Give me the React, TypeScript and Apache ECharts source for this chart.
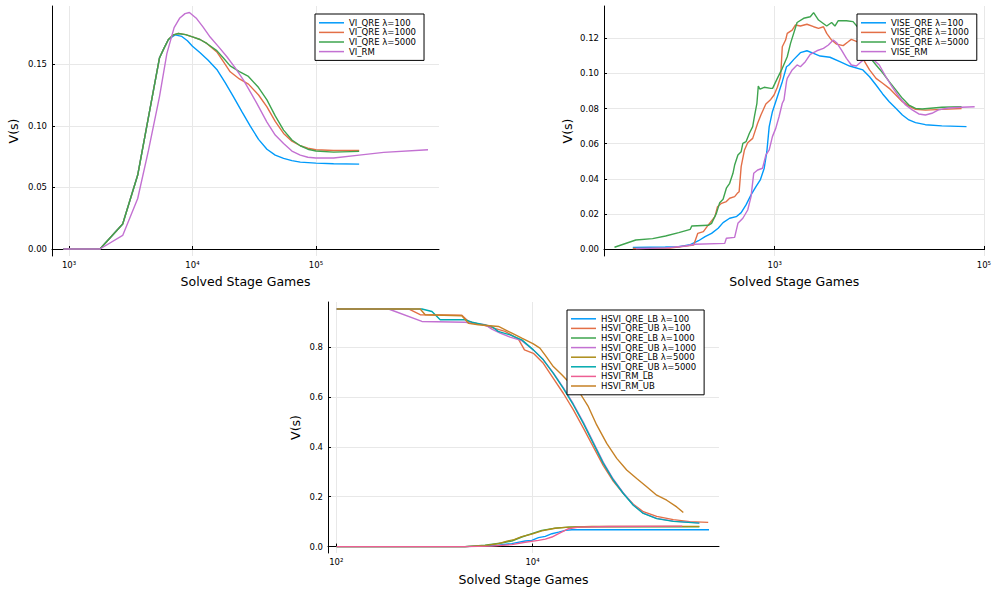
import React, { useEffect, useRef } from 'react';
import * as echarts from 'echarts';

// ---------- palette ----------
const COLORS = ['#009AFA', '#E36F47', '#3EA44E', '#C371D2', '#AC8D18', '#00A9AD', '#ED5E93', '#C68125'];

// ---------- tick values ----------
const X_TICKS_VI = [1000, 10000, 100000];
const X_TICKS_VISE = [1000, 100000];
const X_TICKS_HSVI = [100, 10000];
const Y_TICKS_VI = [0, 0.05, 0.1, 0.15];
const Y_TICKS_VISE = [0, 0.02, 0.04, 0.06, 0.08, 0.1, 0.12];
const Y_TICKS_HSVI = [0, 0.2, 0.4, 0.6, 0.8];

// ---------- plot 1: VI ----------
const VI_NAMES = ['VI_QRE λ=100', 'VI_QRE λ=1000', 'VI_QRE λ=5000', 'VI_RM'];
const VI_QRE_100 = [[900, 0], [1780, 0], [2720, 0.0203], [3600, 0.06], [4400, 0.107], [5400, 0.155], [5820, 0.162], [6380, 0.17], [7230, 0.1738], [8200, 0.1725], [9100, 0.169], [10000, 0.1646], [11470, 0.1595], [13400, 0.1532], [15740, 0.1457], [18400, 0.135], [21500, 0.1235], [25130, 0.1115], [29400, 0.0997], [34300, 0.089], [40100, 0.081], [46800, 0.0762], [54700, 0.0735], [63900, 0.0717], [74700, 0.0705], [100000, 0.0697], [139000, 0.0692], [224000, 0.0689]];
const VI_QRE_1000 = [[900, 0], [1780, 0], [2720, 0.0203], [3600, 0.06], [4400, 0.107], [5400, 0.155], [5820, 0.162], [6380, 0.17], [7000, 0.1738], [7690, 0.1749], [8800, 0.174], [10000, 0.1722], [11500, 0.17], [13060, 0.1668], [15740, 0.16], [17800, 0.152], [20200, 0.1438], [24000, 0.138], [28400, 0.1338], [34300, 0.125], [40100, 0.1154], [46800, 0.1035], [54700, 0.0938], [63900, 0.0875], [74700, 0.0838], [86000, 0.0818], [100000, 0.0805], [139000, 0.08], [224000, 0.08]];
const VI_QRE_5000 = [[900, 0], [1780, 0], [2720, 0.0203], [3600, 0.06], [4400, 0.107], [5400, 0.155], [5820, 0.162], [6380, 0.17], [7000, 0.1738], [7690, 0.1749], [8800, 0.174], [10000, 0.1722], [11500, 0.17], [13060, 0.1668], [15740, 0.161], [17800, 0.155], [20200, 0.1486], [24000, 0.144], [28400, 0.14], [34300, 0.131], [40100, 0.121], [46800, 0.108], [54700, 0.0965], [63900, 0.0885], [74700, 0.0838], [86000, 0.081], [100000, 0.0795], [139000, 0.0786], [224000, 0.0792]];
const VI_RM = [[900, 0], [1780, 0], [2720, 0.011], [3600, 0.041], [4400, 0.08], [5400, 0.1235], [6200, 0.1586], [7100, 0.1797], [7900, 0.1875], [8700, 0.191], [9440, 0.1919], [10800, 0.187], [12200, 0.18], [13900, 0.172], [16300, 0.164], [19000, 0.156], [22200, 0.147], [25900, 0.137], [29400, 0.1275], [33300, 0.118], [40100, 0.103], [46800, 0.0925], [54700, 0.0857], [63900, 0.0795], [74700, 0.0762], [86000, 0.0745], [100000, 0.0738], [139000, 0.0738], [224000, 0.0762], [354000, 0.0784], [809000, 0.0805]];

// ---------- plot 2: VISE ----------
const VISE_NAMES = ['VISE_QRE λ=100', 'VISE_QRE λ=1000', 'VISE_QRE λ=5000', 'VISE_RM'];
const VISE_QRE_100 = [[44, 0.0008], [90, 0.0011], [121, 0.0013], [156, 0.0025], [187, 0.0047], [216, 0.007], [249, 0.0089], [288, 0.0118], [321, 0.015], [371, 0.0175], [429, 0.0184], [478, 0.0207], [532, 0.0251], [594, 0.0308], [662, 0.0355], [728, 0.0393], [794, 0.046], [841, 0.0554], [886, 0.0697], [951, 0.0782], [1060, 0.0867], [1182, 0.0953], [1297, 0.1038], [1368, 0.1048], [1524, 0.108], [1760, 0.1118], [2033, 0.1129], [2355, 0.1114], [2718, 0.1099], [3375, 0.1092], [4200, 0.1067], [5210, 0.1042], [6970, 0.102], [8070, 0.0981], [9310, 0.0934], [10770, 0.0883], [12450, 0.0839], [14390, 0.0801], [16630, 0.0763], [19200, 0.0735], [22200, 0.072], [27600, 0.0708], [39600, 0.0701], [68200, 0.0697]];
const VISE_QRE_1000 = [[44, 0.0003], [100, 0.0005], [168, 0.0023], [184, 0.0089], [208, 0.0099], [232, 0.0137], [268, 0.0184], [284, 0.0241], [310, 0.026], [345, 0.027], [371, 0.0289], [414, 0.0298], [439, 0.0317], [457, 0.0326], [478, 0.0469], [514, 0.0564], [552, 0.0605], [616, 0.063], [687, 0.0716], [738, 0.0763], [823, 0.0826], [917, 0.0852], [986, 0.0877], [1060, 0.0921], [1140, 0.0981], [1182, 0.1152], [1271, 0.119], [1318, 0.1228], [1469, 0.1247], [1580, 0.1276], [1760, 0.127], [2033, 0.128], [2355, 0.1266], [2625, 0.1257], [2925, 0.1266], [3142, 0.1228], [3500, 0.119], [3906, 0.1167], [4516, 0.1158], [5040, 0.118], [5400, 0.1194], [6200, 0.118], [7240, 0.1067], [8070, 0.102], [9310, 0.0972], [10770, 0.0944], [12450, 0.0915], [14390, 0.0877], [16630, 0.0839], [19200, 0.0814], [22200, 0.0795], [27600, 0.0791], [39600, 0.0795], [61200, 0.08]];
const VISE_QRE_5000 = [[29.4, 0.001], [47, 0.0051], [68, 0.0059], [90.5, 0.0074], [121, 0.0093], [156, 0.0112], [161, 0.0131], [232, 0.0135], [249, 0.0146], [277, 0.0203], [298, 0.0264], [321, 0.0283], [345, 0.0346], [371, 0.0374], [399, 0.0431], [414, 0.0478], [445, 0.0535], [478, 0.0554], [496, 0.0602], [532, 0.0611], [573, 0.0659], [616, 0.0697], [639, 0.0753], [676, 0.083], [697, 0.0928], [722, 0.091], [794, 0.0921], [917, 0.0915], [955, 0.0915], [1060, 0.0972], [1182, 0.1029], [1318, 0.1095], [1417, 0.1171], [1637, 0.129], [1892, 0.1314], [2188, 0.1323], [2355, 0.1346], [2625, 0.1304], [3142, 0.127], [3500, 0.129], [3764, 0.127], [4053, 0.13], [4853, 0.13], [5610, 0.1295], [6500, 0.125], [7500, 0.116], [8670, 0.107], [9310, 0.1048], [10770, 0.1004], [12450, 0.0953], [14390, 0.0906], [16630, 0.0858], [19200, 0.082], [22200, 0.0801], [25650, 0.0797], [39600, 0.0807], [61200, 0.081]];
const VISE_RM = [[47, 0.0002], [90.5, 0.0006], [140, 0.0017], [173, 0.0027], [333, 0.0032], [345, 0.0061], [414, 0.0066], [445, 0.0146], [496, 0.0175], [552, 0.0222], [594, 0.0298], [630, 0.0431], [687, 0.045], [765, 0.046], [823, 0.0535], [886, 0.0564], [951, 0.064], [1023, 0.0687], [1100, 0.0753], [1182, 0.083], [1227, 0.0849], [1297, 0.0953], [1318, 0.0972], [1469, 0.102], [1637, 0.1048], [1760, 0.1038], [1963, 0.1067], [2188, 0.1108], [2529, 0.1129], [2925, 0.1143], [3260, 0.1162], [3630, 0.119], [3906, 0.1175], [4355, 0.1133], [4853, 0.1086], [5410, 0.1048], [6030, 0.1042], [6720, 0.1067], [8000, 0.11], [10000, 0.1048], [11560, 0.0981], [13360, 0.0921], [15450, 0.0867], [17850, 0.082], [20650, 0.0792], [23850, 0.0769], [27600, 0.0763], [31850, 0.0773], [36800, 0.0792], [45700, 0.0803], [61200, 0.0807], [81600, 0.081]];

// ---------- plot 3: HSVI ----------
const HSVI_NAMES = ['HSVI_QRE_LB λ=100', 'HSVI_QRE_UB λ=100', 'HSVI_QRE_LB λ=1000', 'HSVI_QRE_UB λ=1000', 'HSVI_QRE_LB λ=5000', 'HSVI_QRE_UB λ=5000', 'HSVI_RM_LB', 'HSVI_RM_UB'];
const HSVI_LB_100 = [[101, 0], [2050, 0], [3280, 0.0027], [4490, 0.0053], [6150, 0.012], [8420, 0.0225], [9840, 0.025], [11500, 0.0358], [13500, 0.041], [15770, 0.0517], [18450, 0.058], [21600, 0.065], [25200, 0.0676], [630000, 0.0676]];
const HSVI_UB_100 = [[101, 0.953], [545, 0.953], [716, 0.93], [1905, 0.928], [2225, 0.903], [3290, 0.886], [5250, 0.863], [7190, 0.832], [8280, 0.789], [10200, 0.775], [12900, 0.735], [16300, 0.675], [20600, 0.615], [26100, 0.548], [33000, 0.475], [41700, 0.4], [52700, 0.325], [66700, 0.262], [84300, 0.213], [106600, 0.17], [134700, 0.14], [184500, 0.121], [272500, 0.108], [400000, 0.1], [618000, 0.097]];
const HSVI_LB_1000 = [[101, 0], [2050, 0], [3280, 0.0053], [4850, 0.0146], [6150, 0.0225], [7780, 0.0384], [9840, 0.0517], [12450, 0.065], [17050, 0.0742], [23300, 0.078], [40400, 0.0795], [502000, 0.0795]];
const HSVI_UB_1000 = [[101, 0.953], [341, 0.953], [746, 0.903], [2060, 0.9], [3290, 0.89], [3850, 0.872], [4680, 0.856], [5910, 0.84], [7780, 0.826], [10200, 0.789], [12900, 0.749], [16300, 0.697], [20600, 0.638], [26100, 0.572], [33000, 0.498], [41700, 0.418], [52700, 0.338], [66700, 0.27], [84300, 0.215], [106600, 0.167], [134700, 0.134], [184500, 0.113], [272500, 0.102], [502000, 0.095]];
const HSVI_LB_5000 = [[101, 0], [2050, 0], [3280, 0.004], [4500, 0.012], [5500, 0.022], [6500, 0.028], [7780, 0.04], [9840, 0.05], [12450, 0.063], [17050, 0.0735], [23300, 0.078], [40400, 0.0805], [502000, 0.081]];
const HSVI_UB_5000 = [[101, 0.953], [746, 0.953], [944, 0.943], [1146, 0.91], [2060, 0.91], [2410, 0.9], [3850, 0.883], [4470, 0.863], [5910, 0.849], [7780, 0.829], [10200, 0.789], [12900, 0.749], [16300, 0.695], [20600, 0.635], [26100, 0.568], [33000, 0.494], [41700, 0.414], [52700, 0.334], [66700, 0.267], [84300, 0.213], [106600, 0.166], [134700, 0.133], [184500, 0.112], [272500, 0.101], [502000, 0.094]];
const HSVI_RM_LB = [[101, 0], [2050, 0], [3800, 0.002], [6150, 0.008], [8420, 0.0172], [11500, 0.025], [13500, 0.03], [15770, 0.0384], [18450, 0.0517], [21000, 0.063], [23300, 0.0716], [29500, 0.078], [59800, 0.0808], [336000, 0.082]];
const HSVI_RM_UB = [[101, 0.953], [716, 0.953], [806, 0.93], [1905, 0.926], [2225, 0.896], [2810, 0.89], [4500, 0.883], [6170, 0.856], [7780, 0.836], [10200, 0.813], [11900, 0.796], [13400, 0.769], [16300, 0.722], [19900, 0.689], [24100, 0.655], [30500, 0.615], [37100, 0.561], [45100, 0.488], [57100, 0.414], [72200, 0.354], [91200, 0.307], [115300, 0.273], [145800, 0.24], [184500, 0.206], [233300, 0.186], [295000, 0.159], [344700, 0.137]];

const FONT = 'DejaVu Sans';
const SUP: Record<string, string> = { '1': '¹', '2': '²', '3': '³', '4': '⁴', '5': '⁵', '6': '⁶' };
const powLabel = (v: number) => '10' + SUP[String(Math.round(Math.log10(v)))];

function xAxis(gridIndex: number, lmin: number, lmax: number, ticks: number[], nameGap: number) {
  return {
    type: 'log', logBase: 10, gridIndex,
    min: Math.pow(10, lmin), max: Math.pow(10, lmax),
    name: 'Solved Stage Games', nameLocation: 'middle', nameGap,
    nameTextStyle: { fontFamily: FONT, fontSize: 12.5, color: '#000' },
    axisLine: { show: true, lineStyle: { color: '#000', width: 1 } },
    axisTick: { show: true, inside: true, length: 3, customValues: ticks, lineStyle: { color: '#000' } },
    axisLabel: { customValues: ticks, formatter: powLabel, fontFamily: FONT, fontSize: 8.5, color: '#000', margin: 4 },
    splitLine: { show: true, lineStyle: { color: '#e8e8e8', width: 1 } },
    minorTick: { show: false }, minorSplitLine: { show: false },
  };
}

function yAxis(gridIndex: number, min: number, max: number, ticks: number[], digits: number, nameGap: number) {
  return {
    type: 'value', gridIndex, min, max,
    name: 'V(s)', nameLocation: 'middle', nameGap,
    nameTextStyle: { fontFamily: FONT, fontSize: 12.5, color: '#000' },
    axisLine: { show: true, lineStyle: { color: '#000', width: 1 } },
    axisTick: { show: true, inside: true, length: 3, customValues: ticks, lineStyle: { color: '#000' } },
    axisLabel: { customValues: ticks, formatter: (v: number) => v.toFixed(digits), fontFamily: FONT, fontSize: 8.5, color: '#000', margin: 5 },
    splitLine: { show: true, lineStyle: { color: '#e8e8e8', width: 1 } },
  };
}

function legend(names: string[], left: number, top: number) {
  return {
    data: names, left, top, orient: 'vertical',
    icon: 'path://M0,0L25,0L25,1.5L0,1.5Z',
    backgroundColor: '#fff', borderColor: '#000', borderWidth: 1, borderRadius: 0,
    padding: [4, 8, 4, 4], itemGap: 0, itemWidth: 25, itemHeight: 9.6,
    textStyle: { fontFamily: FONT, fontSize: 8.5, color: '#000', lineHeight: 9.6 },
    selectedMode: false,
  };
}

function line(name: string, data: number[][], color: string, idx: number) {
  return {
    type: 'line', name, data, xAxisIndex: idx, yAxisIndex: idx,
    showSymbol: false, symbol: 'none', smooth: false,
    lineStyle: { color, width: 1.4 }, itemStyle: { color },
    emphasis: { disabled: true }, z: 2,
  };
}

export default function App() {
  const ref = useRef<HTMLDivElement>(null);
  useEffect(() => {
    const chart = echarts.init(ref.current!, null, { renderer: 'svg' });
    const viData = [VI_QRE_100, VI_QRE_1000, VI_QRE_5000, VI_RM];
    const viseData = [VISE_QRE_100, VISE_QRE_1000, VISE_QRE_5000, VISE_RM];
    const hsviData = [HSVI_LB_100, HSVI_UB_100, HSVI_LB_1000, HSVI_UB_1000, HSVI_LB_5000, HSVI_UB_5000, HSVI_RM_LB, HSVI_RM_UB];
    const series: any[] = [];
    viData.forEach((d, i) => series.push(line(VI_NAMES[i], d, COLORS[i], 0)));
    viseData.forEach((d, i) => series.push(line(VISE_NAMES[i], d, COLORS[i], 1)));
    hsviData.forEach((d, i) => series.push(line(HSVI_NAMES[i], d, COLORS[i], 2)));
    chart.setOption({
      animation: false,
      backgroundColor: '#fff',
      textStyle: { fontFamily: FONT },
      grid: [
        { left: 52, top: 6, width: 387, height: 250 },
        { left: 604, top: 6, width: 386, height: 250 },
        { left: 328, top: 302, width: 391, height: 251 },
      ],
      xAxis: [
        xAxis(0, 2.862, 5.997, X_TICKS_VI, 19),
        xAxis(1, 1.368, 5.007, X_TICKS_VISE, 19),
        xAxis(2, 1.9155, 5.901, X_TICKS_HSVI, 20),
      ],
      yAxis: [
        yAxis(0, -0.00567, 0.1972, Y_TICKS_VI, 2, 32),
        yAxis(1, -0.004, 0.1384, Y_TICKS_VISE, 2, 30),
        yAxis(2, -0.0257, 0.981, Y_TICKS_HSVI, 1, 26),
      ],
      legend: [
        legend(VI_NAMES, 315, 14),
        legend(VISE_NAMES, 857, 14),
        legend(HSVI_NAMES, 567, 310),
      ],
      series,
    });
    return () => chart.dispose();
  }, []);
  return <div ref={ref} style={{ position: 'absolute', left: 0, top: 0, width: 994, height: 592 }} />;
}
